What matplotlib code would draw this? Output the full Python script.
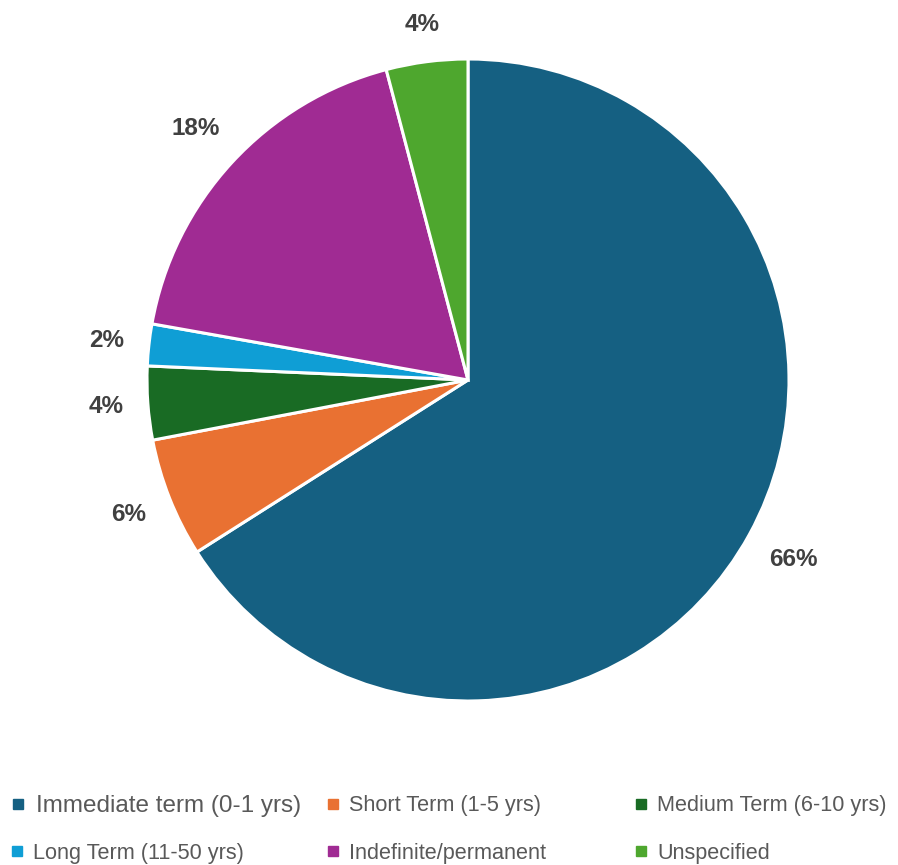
import numpy as np
import matplotlib.pyplot as plt
from matplotlib.lines import Line2D

# data (percent of responses)
categories = ["Immediate term (0-1 yrs)", "Short Term (1-5 yrs)", "Medium Term (6-10 yrs)",
              "Long Term (11-50 yrs)", "Indefinite/permanent", "Unspecified"]
shares = [66.0, 6.0, 3.7, 2.1, 18.1, 4.1]
colors = ["#156082", "#E97132", "#196B24", "#0F9ED5", "#A02B93", "#4EA72E"]

W, H = 898, 865
fig = plt.figure(figsize=(W / 100, H / 100), dpi=100)

# pie centre (468, 380) px, radius 321 px
cx, cy, r = 468, 380, 321
ax = fig.add_axes([(cx - r) / W, (H - cy - r) / H, 2 * r / W, 2 * r / H])
wedges, texts, autotexts = ax.pie(
    shares, colors=colors, startangle=90, counterclock=False,
    autopct="%.0f%%", pctdistance=1.15, radius=1,
    wedgeprops=dict(edgecolor="white", linewidth=2.2),
    textprops=dict(fontsize=17.5, fontweight="bold", color="#404040",
                   family=["Liberation Sans", "DejaVu Sans"]))
ax.set_xlim(-1, 1)
ax.set_ylim(-1, 1)
ax.set_aspect("equal")
ax.axis("off")

# push each label out so its box edge sits a fixed gap outside the pie
fig.canvas.draw()
rend = fig.canvas.get_renderer()
gap = 24  # px
for w, t in zip(wedges, autotexts):
    th = np.deg2rad((w.theta1 + w.theta2) / 2)
    bb = t.get_window_extent(rend)
    off = r + gap + 0.5 * (bb.width * abs(np.cos(th)) + bb.height * abs(np.sin(th)))
    t.set_position((off / r * np.cos(th), off / r * np.sin(th)))

# legend: 3 columns, 2 rows, equal column spacing like the original
col_x = [8, 324, 632]
row_y = [806, 853]
font = ["Liberation Sans", "DejaVu Sans"]
for i, (lab, col) in enumerate(zip(categories, colors)):
    c, rw = i % 3, i // 3
    h = Line2D([], [], marker="s", color=col, linestyle="none", markersize=7)
    leg = fig.legend(handles=[h], labels=[lab], loc="center left",
                     bbox_to_anchor=(col_x[c] / W, 1 - row_y[rw] / H),
                     frameon=False, handletextpad=0.35, handlelength=0.8,
                     borderaxespad=0, borderpad=0,
                     prop=dict(family=font, size=17.5 if i == 0 else 15.6))
    for t in leg.get_texts():
        t.set_color("#595959")

fig.savefig("out.png", dpi=100)
